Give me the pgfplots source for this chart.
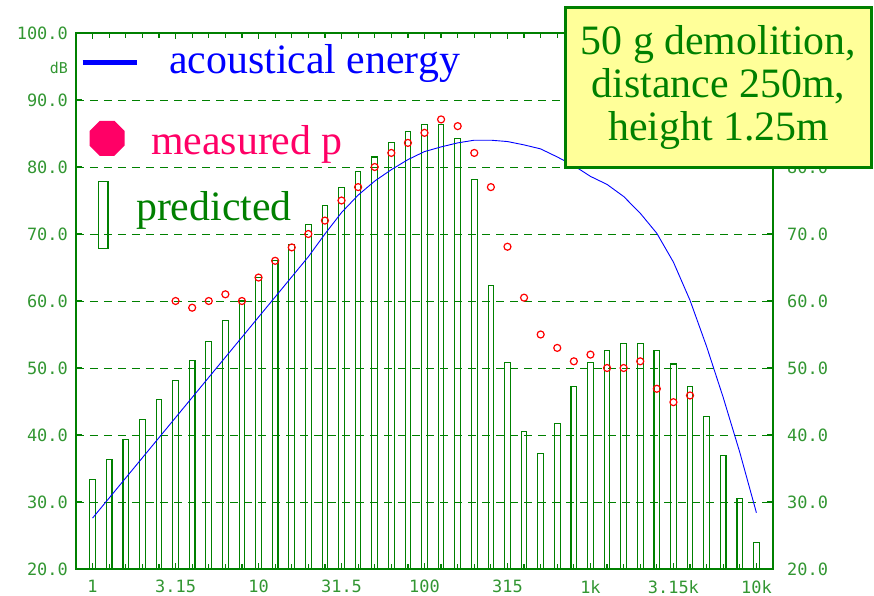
\documentclass[border=0pt]{standalone}
\usepackage{fontspec}
\setmainfont{Liberation Serif}
\newfontfamily\tickfont{DejaVu Sans Mono}
\usepackage{pgfplots}
\usepackage{pgfplotstable}
\pgfplotsset{compat=1.18}
\usetikzlibrary{shapes.geometric}
\definecolor{dg}{RGB}{0,128,0}
\definecolor{tg}{RGB}{50,150,50}
\definecolor{pk}{RGB}{255,0,102}
\definecolor{yb}{RGB}{255,255,153}

\pgfplotstableread{
i y
0 33.4
1 36.3
2 39.3
3 42.3
4 45.3
5 48.2
6 51.1
7 54.0
8 57.1
9 60.0
10 63.5
11 66.0
12 68.5
13 71.4
14 74.2
15 76.9
16 79.3
17 81.5
18 83.7
19 85.3
20 86.4
21 86.3
22 84.2
23 78.2
24 62.3
25 50.8
26 40.5
27 37.3
28 41.7
29 47.2
30 50.8
31 52.6
32 53.7
33 53.7
34 52.6
35 50.6
36 47.2
37 42.8
38 37.0
39 30.5
40 24.0
}\predicted

\pgfplotstableread{
i y
5 60.0
6 59.0
7 60.0
8 61.0
9 60.0
10 63.5
11 66.0
12 68.0
13 70.0
14 72.0
15 75.0
16 77.0
17 80.0
18 82.1
19 83.6
20 85.1
21 87.1
22 86.1
23 82.1
24 77.0
25 68.1
26 60.5
27 55.0
28 53.0
29 51.0
30 52.0
31 50.0
32 50.0
33 51.0
34 46.9
35 44.9
36 45.9
}\measured

\pgfplotstableread{
i y
0 27.6
1 30.6
2 33.6
3 36.6
4 39.6
5 42.6
6 45.6
7 48.6
8 51.6
9 54.6
10 57.6
11 60.6
12 63.6
13 66.6
14 70.0
15 73.2
16 75.8
17 77.9
18 79.6
19 81.1
20 82.3
21 83.0
22 83.6
23 84.0
24 84.0
25 83.8
26 83.3
27 82.7
28 81.5
29 80.2
30 78.6
31 77.4
32 75.6
33 73.1
34 70.1
35 65.8
36 60.1
37 53.2
38 45.6
39 37.4
40 28.4
}\energy

\begin{document}
\begin{tikzpicture}
\begin{axis}[
  scale only axis, width=697bp, height=536bp,
  xmin=-1, xmax=41, ymin=20, ymax=100,
  xtick={0,5,...,40},
  xticklabels={1,3.15,10,31.5,100,315,1k,3.15k,10k},
  minor xtick={0,...,40},
  ytick={20,30,...,100},
  xtick pos=both, xticklabel pos=lower,
  ytick pos=both, yticklabel pos=left,
  tick align=inside,
  major tick length=6bp, minor tick length=5bp,
  tick style={dg, line width=1.2bp},
  axis line style={dg, line width=2bp},
  ymajorgrids,
  grid style={dg, dash pattern=on 8bp off 6bp, line width=0.9bp},
  /pgf/number format/assume math mode=true,
  ticklabel style={font=\tickfont\fontsize{17}{17}\selectfont, text=tg, inner sep=0pt},
  yticklabel style={/pgf/number format/.cd, fixed, fixed zerofill, precision=1, /tikz/.cd, xshift=-8bp},
  xticklabel style={yshift=-11bp},
  reverse legend,
  legend cell align=left,
  legend style={draw=none, fill=none, at={(0.04304,0.97761)}, anchor=north west,
    inner sep=0pt, outer sep=0pt, row sep=32.5bp, column sep=0pt,
    cells={anchor=west},
    nodes={inner sep=0pt, text height=30bp, text depth=10bp, font=\fontsize{42}{42}\selectfont, anchor=west}},
]
\addplot[ybar, bar width=0.34, draw=dg, fill=none, line width=1.1bp,
  legend image code/.code={\path (0,0); \draw[overlay, dg, line width=1.5bp] (-8.3bp,-38.3bp) rectangle (1.3bp,28.3bp);}]
  table[x=i, y=y] {\predicted};
\addlegendentry{\hspace*{29bp}\textcolor{dg}{predicted}}
\addplot[only marks, mark=o, mark size=3.5bp, red, mark options={line width=1.2bp},
  legend image code/.code={\path (0,0); \node[overlay, regular polygon, regular polygon sides=8, fill=pk, draw=none, minimum size=37.9bp, inner sep=0pt, outer sep=0pt, text height=0pt, text depth=0pt, font=\normalsize, anchor=center] at (0.5bp,-0.8bp) {};}]
  table[x=i, y=y] {\measured};
\addlegendentry{\hspace*{44bp}\raisebox{-7bp}{\textcolor{pk}{measured p}}}
\addplot[blue, line width=0.9bp, no marks,
  legend image code/.code={\path (0,0); \draw[overlay, blue, line width=5bp] (-24bp,3bp) -- (30bp,3bp);}]
  table[x=i, y=y] {\energy};
\addlegendentry{\hspace*{62bp}\raisebox{2bp}{\textcolor{blue}{acoustical energy}}}
\coordinate (SW) at (rel axis cs:0,0);
\coordinate (NW) at (rel axis cs:0,1);
\end{axis}
\begin{axis}[
  scale only axis, width=697bp, height=536bp,
  xmin=-1, xmax=41, ymin=20, ymax=100,
  hide x axis, axis y line*=right,
  ytick={20,30,...,80},
  major tick length=0pt,
  axis line style={dg, line width=2bp},
  /pgf/number format/assume math mode=true,
  ticklabel style={font=\tickfont\fontsize{17}{17}\selectfont, text=tg, inner sep=0pt},
  yticklabel style={/pgf/number format/.cd, fixed, fixed zerofill, precision=1, /tikz/.cd, xshift=14bp},
]
\end{axis}
\node[anchor=base east, inner sep=0pt, font=\tickfont\fontsize{15}{15}\selectfont, text=tg] at ([xshift=-8bp, yshift=-40bp]NW) {dB};
\node[anchor=north west, fill=yb, draw=dg, line width=2.5bp, minimum width=306bp, minimum height=160bp,
  align=center, text=dg, font=\fontsize{42}{43}\selectfont, inner sep=0pt]
  at ([xshift=488.25bp, yshift=562.75bp]SW) {50 g demolition,\\distance 250m,\\height 1.25m};
\path (SW) ++(-76bp,-27bp) rectangle ++(874bp,596bp);
\end{tikzpicture}
\end{document}
